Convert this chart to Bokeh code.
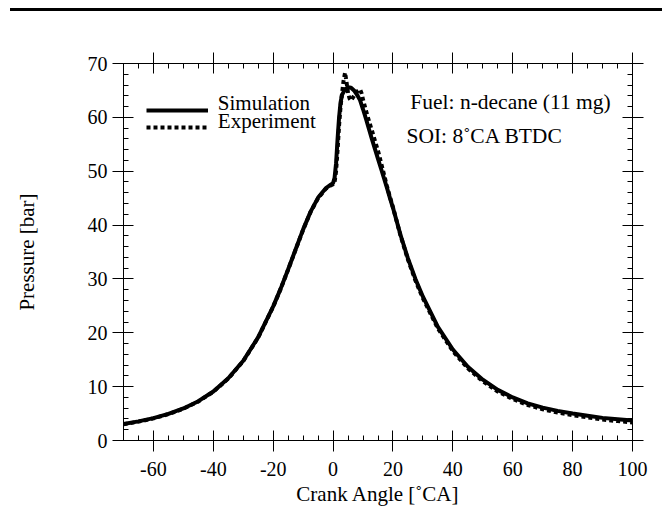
from bokeh.plotting import figure
from bokeh.models import (LinearAxis, FixedTicker, Range1d, Legend, LegendItem,
                          Label, CustomJSTickFormatter, Div)
from bokeh.layouts import column
from bokeh.embed import file_html
from bokeh.resources import INLINE

# ---------------- data ----------------
crank_sim = [-70, -65, -60, -55, -50, -45, -40, -35, -30, -25,
             -20, -17.5, -15, -12.5, -10, -7.5, -5, -2.5, -1, 0,
             0.5, 1, 1.5, 2, 2.5, 3, 4, 5, 6, 7,
             8, 9, 10, 11, 12, 13, 14, 15, 16, 17,
             18, 19, 20, 22.5, 25, 27.5, 30, 35, 40, 45,
             50, 55, 60, 65, 70, 75, 80, 85, 90, 95,
             100]
p_sim = [3.05, 3.55, 4.15, 4.95, 5.95, 7.3, 9.1, 11.55, 14.8, 19.2,
         24.9, 28.2, 31.8, 35.5, 39.2, 42.5, 45.1, 46.8, 47.4, 47.8,
         48.8, 51.5, 56.0, 60.0, 62.8, 64.2, 65.2, 65.6, 65.5, 65.0,
         64.2, 63.2, 61.5, 59.7, 57.8, 55.9, 54.1, 52.3, 50.5, 48.7,
         46.9, 45.0, 43.2, 38.2, 33.8, 30.0, 26.7, 21.1, 16.9, 13.7,
         11.3, 9.4, 8.0, 6.9, 6.1, 5.5, 5.0, 4.6, 4.2, 3.95,
         3.7]

crank_exp = [-70, -65, -60, -55, -50, -45, -40, -35, -30, -25,
             -20, -17.5, -15, -12.5, -10, -7.5, -5, -2.5, -1, 0,
             0.5, 1, 1.5, 2, 2.5, 3, 3.5, 4, 4.5, 5,
             5.5, 6, 7, 8, 9, 9.5, 10, 11, 12, 13,
             14, 15, 16, 17, 18, 19, 20, 22.5, 25, 27.5,
             30, 35, 40, 45, 50, 55, 60, 65, 70, 75,
             80, 85, 90, 95, 100]
p_exp = [3.0, 3.5, 4.1, 4.9, 5.9, 7.25, 9.05, 11.5, 14.75, 19.15,
         24.85, 28.15, 31.75, 35.45, 39.15, 42.45, 45.0, 46.7, 47.3, 47.6,
         48.0, 50.0, 54.0, 58.5, 62.0, 64.5, 66.8, 68.3, 66.5, 64.5,
         63.5, 63.1, 64.0, 64.8, 65.2, 64.5, 63.3, 61.2, 59.3, 57.5,
         55.6, 53.8, 51.6, 49.4, 47.2, 45.2, 43.3, 38.1, 33.6, 29.7,
         26.4, 20.8, 16.6, 13.4, 11.0, 9.1, 7.7, 6.6, 5.8, 5.2,
         4.7, 4.3, 3.9, 3.6, 3.35]

series_labels = ["Simulation", "Experiment"]
note_texts = ["Fuel: n-decane (11 mg)", "SOI: 8\u02daCA BTDC"]
x_label = "Crank Angle [\u02daCA]"
y_label = "Pressure [bar]"

x_ticks = [-60, -40, -20, 0, 20, 40, 60, 80, 100]
x_minor = list(range(-70, 101, 5))
y_ticks = [0, 10, 20, 30, 40, 50, 60, 70]
y_minor = list(range(0, 71, 2))

FONT = "Liberation Serif"

# ---------------- figure ----------------
p = figure(width=662, height=497, output_backend="svg", toolbar_location=None,
           x_range=Range1d(-70, 100), y_range=Range1d(0, 70),
           x_axis_location=None, y_axis_location=None,
           min_border_left=123, min_border_right=30,
           min_border_top=52, min_border_bottom=66)
p.outline_line_color = None
p.background_fill_color = "white"
p.border_fill_color = "white"
p.grid.visible = False

plain_numbers = CustomJSTickFormatter(code="return tick.toFixed(0)")
blank = CustomJSTickFormatter(code="return ''")


def make_axis(ticker, label=None, show_labels=True):
    ax = LinearAxis(ticker=ticker)
    ax.axis_line_color = "black"
    ax.axis_line_width = 1
    ax.major_tick_line_color = "black"
    ax.minor_tick_line_color = "black"
    ax.major_tick_in = 10
    ax.major_tick_out = 11
    ax.minor_tick_in = 5
    ax.minor_tick_out = 0
    ax.major_label_text_font = FONT
    ax.major_label_text_font_size = "20px"
    ax.major_label_text_color = "black"
    if show_labels:
        ax.formatter = plain_numbers
    else:
        ax.formatter = blank
        ax.major_label_standoff = 0
    if label is not None:
        ax.axis_label = label
        ax.axis_label_text_font = FONT
        ax.axis_label_text_font_style = "normal"
        ax.axis_label_text_font_size = "21px"
        ax.axis_label_text_color = "black"
    return ax


bottom = make_axis(FixedTicker(ticks=x_ticks, minor_ticks=x_minor), x_label)
bottom.major_label_standoff = 10
bottom.axis_label_standoff = 3
left = make_axis(FixedTicker(ticks=y_ticks, minor_ticks=y_minor), y_label)
left.major_label_standoff = 5
left.axis_label_standoff = 46
top = make_axis(FixedTicker(ticks=x_ticks, minor_ticks=x_minor), show_labels=False)
right = make_axis(FixedTicker(ticks=y_ticks, minor_ticks=y_minor), show_labels=False)

p.add_layout(bottom, "below")
p.add_layout(left, "left")
p.add_layout(top, "above")
p.add_layout(right, "right")

# ---------------- curves ----------------
r_sim = p.line(crank_sim, p_sim, line_color="black", line_width=4)
r_exp = p.line(crank_exp, p_exp, line_color="black", line_width=4,
               line_dash="4 3", line_cap="butt")

# ---------------- legend: sample lines from Legend, texts as labels ----------------
def make_legend(rend, loc):
    lg = Legend(items=[LegendItem(label=" ", renderers=[rend])], location=loc)
    lg.padding = 0
    lg.margin = 0
    lg.spacing = 0
    lg.border_line_color = None
    lg.background_fill_alpha = 0
    lg.glyph_width = 62
    lg.glyph_height = 32
    lg.label_height = 32
    lg.label_standoff = 0
    lg.label_text_font = FONT
    lg.label_text_font_size = "21px"
    return lg


p.add_layout(make_legend(r_sim, (23, 314)), "center")
p.add_layout(make_legend(r_exp, (23, 297)), "center")

for txt, xx, yy in [(series_labels[0], -38.5, 62.6), (series_labels[1], -38.5, 59.35)]:
    p.add_layout(Label(x=xx, y=yy, text=txt, text_font=FONT, text_font_size="21px",
                       text_color="black", text_baseline="middle", text_align="left"))

# ---------------- notes ----------------
for txt, xx, yy in [(note_texts[0], 25.8, 62.8), (note_texts[1], 24.5, 56.5)]:
    p.add_layout(Label(x=xx, y=yy, text=txt, text_font=FONT, text_font_size="21.5px",
                       text_color="black", text_baseline="middle", text_align="left"))

# ---------------- thick rule at the top of the page ----------------
rule = Div(text="", width=652, height=3, margin=(8, 0, 0, 10),
           styles={"background-color": "black"})

layout = column(rule, p, spacing=0)

open("out.html", "w").write(file_html(layout, INLINE))
